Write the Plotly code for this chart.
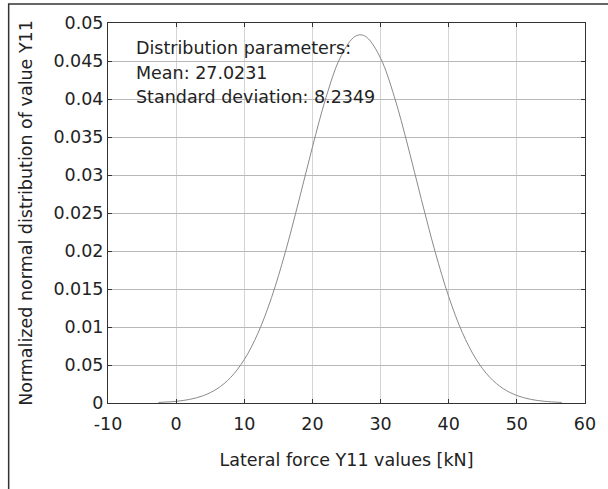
import plotly.graph_objects as go

# Data (normal curve, mean 27.0231, sd 8.2349)
x_values = [-2.6, 0, 2, 4, 6, 8, 10, 12, 14, 16, 18, 20, 22, 24, 26, 27,
            28, 30, 32, 34, 36, 38, 40, 42, 44, 46, 48, 50, 52, 54, 56.6]
y_values = [0.000075, 0.000222, 0.000479, 0.000972, 0.001862, 0.003362,
            0.005719, 0.009173, 0.013873, 0.019777, 0.026580, 0.033674,
            0.040221, 0.045288, 0.048073, 0.048445, 0.048105, 0.045381,
            0.040358, 0.033836, 0.026744, 0.019926, 0.013996, 0.009267,
            0.005785, 0.003405, 0.001889, 0.000988, 0.000487, 0.000227,
            0.000077]

x_tickvals = [-10, 0, 10, 20, 30, 40, 50, 60]
x_ticktext = ["-10", "0", "10", "20", "30", "40", "50", "60"]
y_tickvals = [0, 0.005, 0.01, 0.015, 0.02, 0.025, 0.03, 0.035, 0.04, 0.045, 0.05]
y_ticktext = ["0", "0.05", "0.01", "0.015", "0.02", "0.025", "0.03",
              "0.035", "0.04", "0.045", "0.05"]
info_lines = ["Distribution parameters:", "Mean: 27.0231",
              "Standard deviation: 8.2349"]

FONT = "DejaVu Sans, sans-serif"
FS = 17.5
W, H = 608, 489
L, R, T, B = 108, 15, 23, 86
pw, ph = W - L - R, H - T - B

fig = go.Figure()
fig.add_trace(go.Scatter(x=x_values, y=y_values, mode="lines",
                         line=dict(color="#8a8a8a", width=1, shape="spline"),
                         showlegend=False, hoverinfo="skip"))

fig.update_layout(
    width=W, height=H,
    margin=dict(l=L, r=R, t=T, b=B),
    paper_bgcolor="white", plot_bgcolor="white",
    font=dict(family=FONT, size=FS, color="#222222"),
    xaxis=dict(range=[-10, 60], tickvals=x_tickvals, ticktext=x_ticktext,
               showgrid=True,
               gridcolor="#d4d4d4", gridwidth=1, zeroline=False,
               showline=True, linecolor="#333333", linewidth=1,
               mirror="ticks", ticks="inside", ticklen=4, tickcolor="#333333",
               ticklabelstandoff=5,
               tickfont=dict(size=FS, color="#222222"),
               title=dict(text="Lateral force Y11 values [kN]",
                          font=dict(size=FS, color="#222222"), standoff=20)),
    yaxis=dict(range=[0, 0.05], tickvals=y_tickvals, ticktext=y_ticktext,
               showgrid=True, gridcolor="#b8b8b8", gridwidth=1, zeroline=False,
               showline=True, linecolor="#333333", linewidth=1,
               mirror="ticks", ticks="inside", ticklen=4, tickcolor="#333333",
               tickfont=dict(size=FS, color="#222222"),
               title=dict(text="Normalized normal distribution of value Y11",
                          font=dict(size=FS, color="#222222"), standoff=16)),
)

# text block
for i, line in enumerate(info_lines):
    fig.add_annotation(xref="paper", yref="paper",
                       x=(134 - L) / pw, y=(H - B - (48 + 24.5 * i)) / ph,
                       xanchor="left", yanchor="middle", showarrow=False,
                       text=line, font=dict(size=FS, color="#222222"))

# outer frame (top and left edges)
fig.add_shape(type="rect", xref="paper", yref="paper",
              x0=(7 - L) / pw, x1=(W + 20 - L) / pw,
              y0=(H - B - (H + 20)) / ph, y1=(H - B - 4) / ph,
              line=dict(color="#333333", width=1.5), layer="above")

fig.write_html("out.html")
